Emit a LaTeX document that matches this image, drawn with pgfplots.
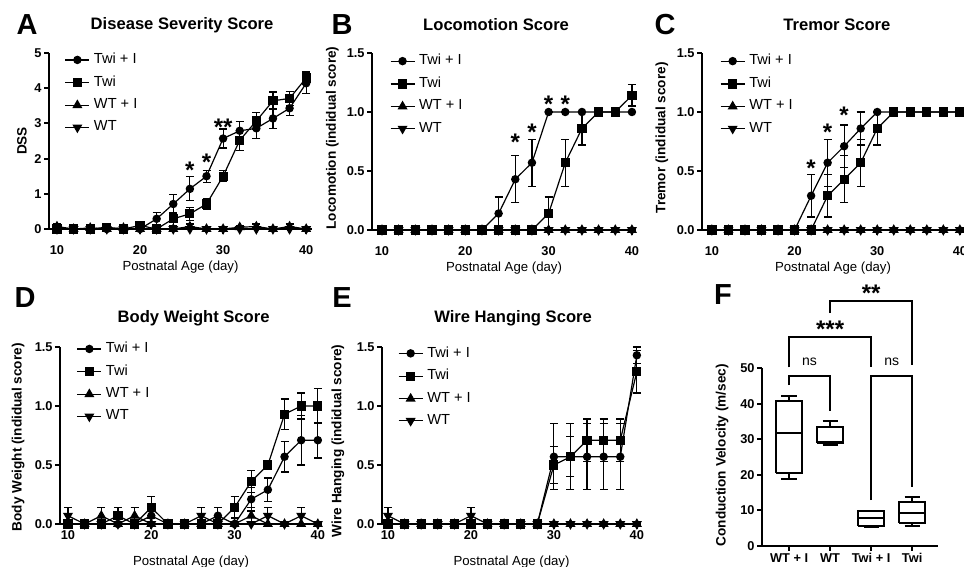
\documentclass[border=0pt]{standalone}
\usepackage{fontspec}
\setmainfont{Liberation Sans}
\usepackage{pgfplots}
\pgfplotsset{compat=1.18}
\usepackage{pgfplotstable}

% columns: x, Twi+I (a, ae), Twi (b, be), WT+I (c, ce), WT (d, de)
\pgfplotstableread{
x a ae b be c ce d de
10 0 0 0 0 0.07 0.07 0 0
12 0 0 0 0 0 0 0 0
14 0 0 0 0 0.03 0.03 0 0
16 0 0 0.05 0.05 0 0 0 0
18 0 0 0 0 0.03 0.03 0 0
20 0 0 0.1 0.08 0 0 0 0
22 0.29 0.17 0 0 0 0 0 0
24 0.71 0.28 0.29 0.18 0 0 0 0
26 1.14 0.34 0.43 0.18 0.07 0.07 0 0
28 1.5 0.17 0.71 0.16 0 0 0 0
30 2.57 0.27 1.5 0.16 0 0 0 0
32 2.79 0.27 2.52 0.28 0.05 0.05 0 0
34 2.86 0.28 3.07 0.25 0.07 0.07 0 0
36 3.14 0.28 3.64 0.25 0 0 0 0
38 3.43 0.2 3.71 0.2 0.07 0.07 0 0
40 4.14 0.3 4.29 0.17 0 0 0 0
}\dataA

\pgfplotstableread{
x a ae b be c ce d de
10 0 0 0 0 0 0 0 0
12 0 0 0 0 0 0 0 0
14 0 0 0 0 0 0 0 0
16 0 0 0 0 0 0 0 0
18 0 0 0 0 0 0 0 0
20 0 0 0 0 0 0 0 0
22 0 0 0 0 0 0 0 0
24 0.14 0.14 0 0 0 0 0 0
26 0.43 0.2 0 0 0 0 0 0
28 0.57 0.2 0 0 0 0 0 0
30 1 0 0.14 0.14 0 0 0 0
32 1 0 0.57 0.2 0 0 0 0
34 1 0 0.86 0.14 0 0 0 0
36 1 0 1 0 0 0 0 0
38 1 0 1 0 0 0 0 0
40 1 0 1.14 0.09 0 0 0 0
}\dataB

\pgfplotstableread{
x a ae b be c ce d de
10 0 0 0 0 0 0 0 0
12 0 0 0 0 0 0 0 0
14 0 0 0 0 0 0 0 0
16 0 0 0 0 0 0 0 0
18 0 0 0 0 0 0 0 0
20 0 0 0 0 0 0 0 0
22 0.29 0.18 0 0 0 0 0 0
24 0.57 0.2 0.29 0.18 0 0 0 0
26 0.71 0.18 0.43 0.2 0 0 0 0
28 0.86 0.14 0.57 0.2 0 0 0 0
30 1 0 0.86 0.14 0 0 0 0
32 1 0 1 0 0 0 0 0
34 1 0 1 0 0 0 0 0
36 1 0 1 0 0 0 0 0
38 1 0 1 0 0 0 0 0
40 1 0 1 0 0 0 0 0
}\dataC

\pgfplotstableread{
x a ae b be c ce d de
10 0 0 0 0 0 0 0.07 0.07
12 0 0 0 0 0 0 0 0
14 0 0 0 0 0.07 0.07 0 0
16 0 0 0.07 0.07 0 0 0 0
18 0 0 0 0 0.07 0.07 0 0
20 0.07 0.07 0.14 0.09 0 0 0 0
22 0 0 0 0 0 0 0 0
24 0 0 0 0 0 0 0 0
26 0 0 0 0 0 0 0.07 0.07
28 0.07 0.07 0 0 0 0 0 0
30 0 0 0.14 0.09 0 0 0 0
32 0.21 0.1 0.36 0.09 0.07 0.07 0 0
34 0.29 0.1 0.5 0 0 0 0.07 0.07
36 0.57 0.13 0.93 0.13 0 0 0 0
38 0.71 0.21 1 0.11 0 0 0.07 0.07
40 0.71 0.15 1 0.15 0 0 0 0
}\dataD

\pgfplotstableread{
x a ae b be c ce d de
10 0 0 0 0 0 0 0.07 0.07
12 0 0 0 0 0 0 0 0
14 0 0 0 0 0 0 0 0
16 0 0 0 0 0 0 0 0
18 0 0 0 0 0 0 0 0
20 0 0 0 0 0 0 0.07 0.07
22 0 0 0 0 0 0 0 0
24 0 0 0 0 0 0 0 0
26 0 0 0 0 0 0 0 0
28 0 0 0 0 0 0 0 0
30 0.57 0.28 0.5 0.16 0 0 0 0
32 0.57 0.28 0.57 0.17 0 0 0 0
34 0.57 0.28 0.71 0.18 0 0 0 0
36 0.57 0.28 0.71 0.18 0 0 0 0
38 0.57 0.28 0.71 0.18 0 0 0 0
40 1.43 0.07 1.29 0.18 0 0 0 0
}\dataE

\tikzset{
  sigstar/.style={font=\bfseries\fontsize{12}{12}\selectfont, yshift=-2.6pt, inner sep=0pt},
  plabel/.style={font=\bfseries\fontsize{14.5}{15}\selectfont},
}

\pgfplotsset{
  base/.style={
    scale only axis, axis lines*=left,
    axis line style={line width=1pt},
    tick align=outside, major tick length=2.5pt,
    every tick/.style={line width=1pt, black},
    ticklabel style={font=\bfseries\fontsize{6.4}{7}\selectfont},
    yticklabel style={inner sep=1pt},
    /pgf/number format/assume math mode=true,
    clip=false,
    ylabel style={font=\bfseries\fontsize{6.8}{8}\selectfont, anchor=center},
    every axis title/.style={anchor=center, font=\bfseries\fontsize{8.3}{10}\selectfont},
  },
  gp/.style={
    base,
    xtick={10,20,30,40}, minor tick num=0, ymin=0,
    xlabel={Postnatal Age (day)},
    xlabel style={font=\fontsize{6.6}{8}\selectfont, at={(axis description cs:0.5,-0.215)}, anchor=center},
    legend style={draw=none, fill=none, font=\fontsize{7.3}{8}\selectfont, anchor=north west, row sep=0.6pt, inner sep=0pt, outer sep=0pt},
    legend cell align=left,
    legend image code/.code={\draw[mark repeat=2,mark phase=2] plot coordinates {(0pt,0pt)(6pt,0pt)(12pt,0pt)};},
    every axis plot/.append style={black, line width=0.6pt, mark options={solid, fill=black, draw=black}},
    error bars/error bar style={line width=0.6pt},
    error bars/error mark options={rotate=90, mark size=2pt, line width=0.6pt},
  },
  toprow/.style={xticklabel style={yshift=-2.2pt}},
  botrow/.style={xticklabel style={yshift=2.6pt}},
  dec/.style={yticklabel style={/pgf/number format/.cd, fixed, fixed zerofill, precision=1}},
  s1/.style={mark=*, mark size=1.8pt},
  s2/.style={mark=square*, mark size=2pt},
  s3/.style={mark=triangle*, mark size=2.3pt},
  s4/.style={mark=triangle*, mark size=2.3pt, every mark/.append style={rotate=180}},
  bx/.style={black, line width=1pt, line join=miter, mark=none},
}

\newcommand{\fourseries}[1]{%
  \addplot[s1, error bars/.cd, y dir=both, y explicit] table[x=x, y=a, y error=ae] {#1};
  \addplot[s2, error bars/.cd, y dir=both, y explicit] table[x=x, y=b, y error=be] {#1};
  \addplot[s3, error bars/.cd, y dir=both, y explicit] table[x=x, y=c, y error=ce] {#1};
  \addplot[s4, error bars/.cd, y dir=both, y explicit] table[x=x, y=d, y error=de] {#1};
  \legend{Twi + I, Twi, WT + I, WT}
}

\begin{document}
\begin{tikzpicture}

% ---------- A ----------
\begin{axis}[gp, toprow, at={(24.5pt,169pt)}, anchor=south west,
  width=131.5pt, height=88pt, xmin=9.04, xmax=40.7, ymax=5,
  ytick={0,1,2,3,4,5},
  ylabel={DSS}, ylabel style={at={(axis description cs:-0.103,0.5)}},
  title={Disease Severity Score}, title style={at={(axis description cs:0.506,1.16)}},
  legend style={at={(axis description cs:0.06,1.022)}}]
\fourseries{\dataA}
\node[sigstar] at (axis cs:26,1.82) {*};
\node[sigstar] at (axis cs:28,2.05) {*};
\node[sigstar] at (axis cs:30,3.05) {**};
\end{axis}

% ---------- B ----------
\begin{axis}[gp, dec, toprow, at={(186pt,168.5pt)}, anchor=south west,
  width=132pt, height=88.5pt, xmin=8.8, xmax=40.49, ymax=1.5,
  ytick={0,0.5,1,1.5},
  ylabel={Locomotion (indidual score)}, ylabel style={at={(axis description cs:-0.15,0.52)}},
  title={Locomotion Score}, title style={at={(axis description cs:0.47,1.16)}},
  legend style={at={(axis description cs:0.068,1.015)}}]
\fourseries{\dataB}
\node[sigstar] at (axis cs:26,0.79) {*};
\node[sigstar] at (axis cs:28,0.875) {*};
\node[sigstar] at (axis cs:30,1.11) {*};
\node[sigstar] at (axis cs:32,1.11) {*};
\end{axis}

% ---------- C ----------
\begin{axis}[gp, dec, toprow, at={(351pt,168.5pt)}, anchor=south west,
  width=131pt, height=88.5pt, xmin=8.8, xmax=40.5, ymax=1.5,
  ytick={0,0.5,1,1.5},
  ylabel={Tremor (indidual score)}, ylabel style={at={(axis description cs:-0.153,0.52)}},
  title={Tremor Score}, title style={at={(axis description cs:0.515,1.16)}},
  legend style={at={(axis description cs:0.069,1.015)}}]
\fourseries{\dataC}
\node[sigstar] at (axis cs:22,0.565) {*};
\node[sigstar] at (axis cs:24,0.875) {*};
\node[sigstar] at (axis cs:26,1.02) {*};
\end{axis}

% ---------- D ----------
\begin{axis}[gp, dec, botrow, at={(30pt,21.5pt)}, anchor=south west,
  width=131pt, height=88.5pt, xmin=9.04, xmax=40.5, ymax=1.5,
  ytick={0,0.5,1,1.5},
  ylabel={Body Weight (indidual score)}, ylabel style={at={(axis description cs:-0.16,0.49)}},
  title={Body Weight Score}, title style={at={(axis description cs:0.51,1.165)}},
  legend style={at={(axis description cs:0.064,1.05)}}]
\fourseries{\dataD}
\end{axis}

% ---------- E ----------
\begin{axis}[gp, dec, botrow, at={(191pt,21.5pt)}, anchor=south west,
  width=129.5pt, height=88.5pt, xmin=9.28, xmax=40.5, ymax=1.5,
  ytick={0,0.5,1,1.5},
  ylabel={Wire Hanging (indidual score)}, ylabel style={at={(axis description cs:-0.17,0.47)}},
  title={Wire Hanging Score}, title style={at={(axis description cs:0.506,1.165)}},
  legend style={at={(axis description cs:0.062,1.025)}}]
\fourseries{\dataE}
\end{axis}

% ---------- F ----------
\begin{axis}[base, at={(381pt,10.5pt)}, anchor=south west,
  width=88pt, height=89pt, xmin=-0.66, xmax=3.63, ymin=0, ymax=50,
  xtick={0,1,2,3}, xticklabels={WT + I, WT, Twi + I, Twi},
  xticklabel style={inner sep=1pt},
  ytick={0,10,20,30,40,50},
  ylabel={Conduction Velocity (m/sec)}, ylabel style={at={(axis description cs:-0.227,0.51)}}]
% WT + I : whiskers 18.7 / 42.2, box 20.6 - 40.8, median 31.8
\addplot[bx] coordinates {(-0.315,20.6) (0.315,20.6) (0.315,40.8) (-0.315,40.8) (-0.315,20.6)};
\addplot[bx] coordinates {(-0.315,31.8) (0.315,31.8)};
\addplot[bx] coordinates {(0,20.6) (0,18.7)};
\addplot[bx] coordinates {(-0.185,18.7) (0.185,18.7)};
\addplot[bx] coordinates {(0,40.8) (0,42.2)};
\addplot[bx] coordinates {(-0.185,42.2) (0.185,42.2)};
% WT : whiskers 28.3 / 35.0, box 28.8 - 33.5, median 29.1
\addplot[bx] coordinates {(0.685,28.8) (1.315,28.8) (1.315,33.5) (0.685,33.5) (0.685,28.8)};
\addplot[bx] coordinates {(0.685,29.1) (1.315,29.1)};
\addplot[bx] coordinates {(1,28.8) (1,28.3)};
\addplot[bx] coordinates {(0.815,28.3) (1.185,28.3)};
\addplot[bx] coordinates {(1,33.5) (1,35.0)};
\addplot[bx] coordinates {(0.815,35.0) (1.185,35.0)};
% Twi + I : whiskers 5.4 / 9.9, box 5.7 - 9.9, median 8.0
\addplot[bx] coordinates {(1.685,5.7) (2.315,5.7) (2.315,9.9) (1.685,9.9) (1.685,5.7)};
\addplot[bx] coordinates {(1.685,8.0) (2.315,8.0)};
\addplot[bx] coordinates {(2,5.7) (2,5.4)};
\addplot[bx] coordinates {(1.815,5.4) (2.185,5.4)};
% Twi : whiskers 5.6 / 13.7, box 6.6 - 12.3, median 9.2
\addplot[bx] coordinates {(2.685,6.6) (3.315,6.6) (3.315,12.3) (2.685,12.3) (2.685,6.6)};
\addplot[bx] coordinates {(2.685,9.2) (3.315,9.2)};
\addplot[bx] coordinates {(3,6.6) (3,5.6)};
\addplot[bx] coordinates {(2.815,5.6) (3.185,5.6)};
\addplot[bx] coordinates {(3,12.3) (3,13.7)};
\addplot[bx] coordinates {(2.815,13.7) (3.185,13.7)};
% significance brackets
\draw[line width=1pt] (axis cs:0,45.2) -- (axis cs:0,47.8) -- (axis cs:1,47.8) -- (axis cs:1,37.8);
\draw[line width=1pt] (axis cs:2,12.9) -- (axis cs:2,47.8) -- (axis cs:3,47.8) -- (axis cs:3,16.5);
\draw[line width=1pt] (axis cs:0,50.2) -- (axis cs:0,58.6) -- (axis cs:2,58.6) -- (axis cs:2,50.2);
\draw[line width=1pt] (axis cs:1,65.4) -- (axis cs:1,68.9) -- (axis cs:3,68.9) -- (axis cs:3,50.8);
\node[font=\fontsize{7}{8}\selectfont] at (axis cs:0.5,51.8) {ns};
\node[font=\fontsize{7}{8}\selectfont] at (axis cs:2.5,51.8) {ns};
\node[sigstar] at (axis cs:1,62.3) {***};
\node[sigstar] at (axis cs:2,72.4) {**};
\end{axis}

% panel letters
\node[plabel] at (13.5pt,271pt) {A};
\node[plabel] at (171pt,271pt) {B};
\node[plabel] at (332.5pt,271pt) {C};
\node[plabel] at (12.5pt,134.5pt) {D};
\node[plabel] at (171pt,134.5pt) {E};
\node[plabel] at (361.5pt,136pt) {F};

\pgfresetboundingbox
\path[use as bounding box] (0pt,0pt) rectangle (482pt,283.5pt);
\end{tikzpicture}
\end{document}
